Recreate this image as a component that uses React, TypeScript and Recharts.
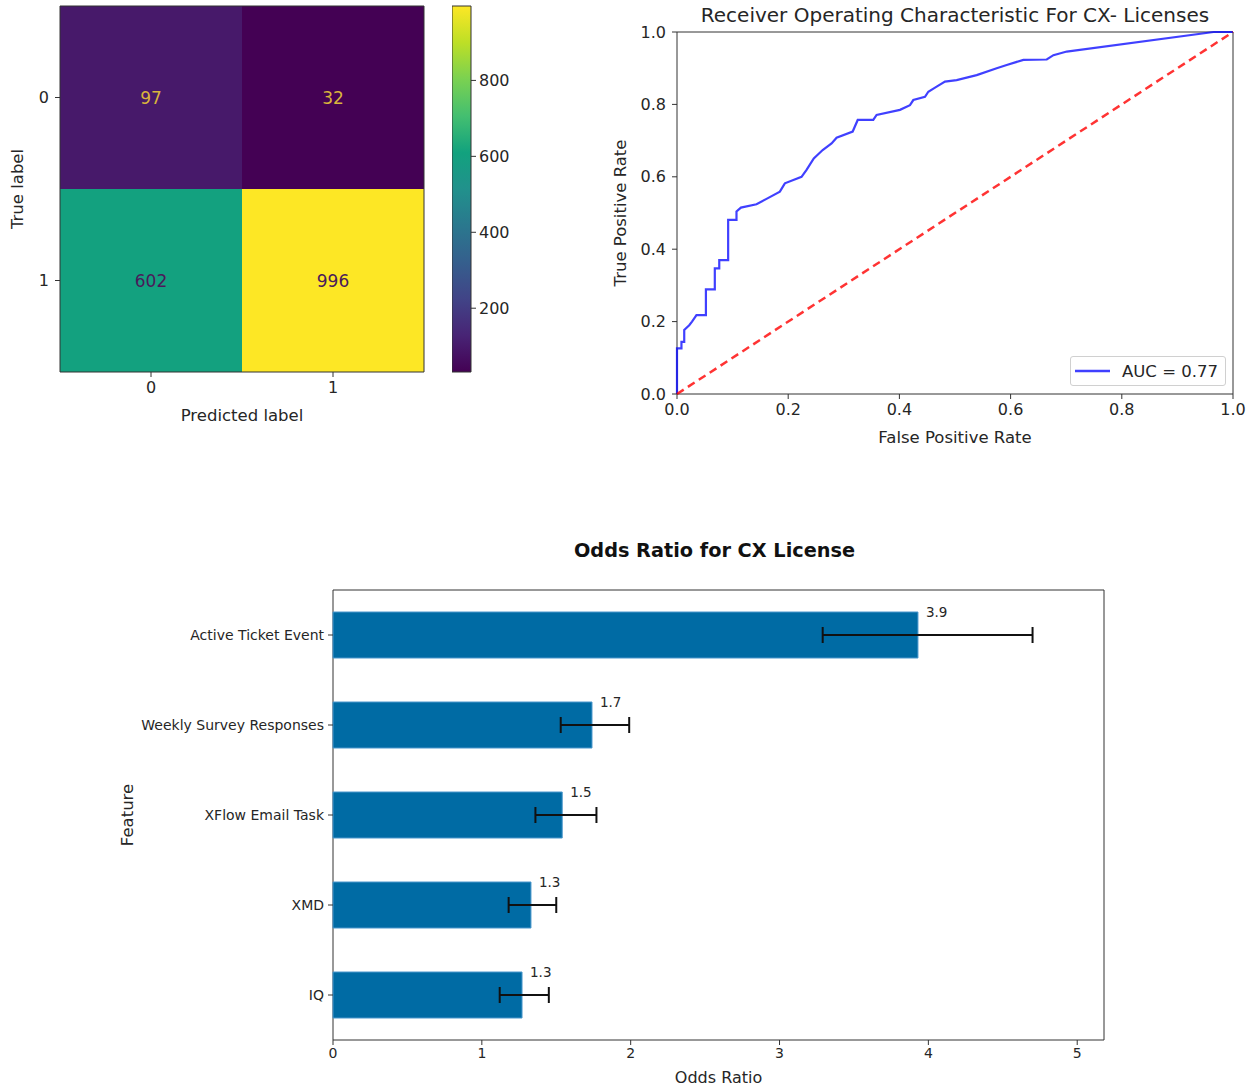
import React from "react";
import {
  ScatterChart,
  Scatter,
  LineChart,
  Line,
  BarChart,
  Bar,
  XAxis,
  YAxis,
  ReferenceArea,
  ReferenceLine,
  ErrorBar,
  LabelList,
  Legend,
  Label,
} from "recharts";

const FONT = '"DejaVu Sans", Verdana, sans-serif';
const INK = "#262626";
const SPINE = "#333";

// --- confusion matrix ---
const classLabels = [0, 1];
const cmCounts = [
  [97, 32],
  [602, 996],
];
const colorbarTicks = [200, 400, 600, 800];

// --- ROC curve ---
const rocFpr = [
  0, 0, 0.008, 0.008, 0.013, 0.013, 0.022, 0.027, 0.035, 0.052, 0.052, 0.068, 0.068, 0.076, 0.076,
  0.092, 0.092, 0.107, 0.107, 0.115, 0.143, 0.161, 0.185, 0.194, 0.224, 0.233, 0.246, 0.262, 0.278,
  0.287, 0.316, 0.325, 0.353, 0.359, 0.401, 0.419, 0.425, 0.446, 0.452, 0.467, 0.482, 0.503, 0.539,
  0.575, 0.593, 0.623, 0.665, 0.677, 0.701, 0.965, 1.0,
];
const rocTpr = [
  0, 0.126, 0.126, 0.144, 0.144, 0.177, 0.19, 0.2, 0.218, 0.218, 0.289, 0.289, 0.347, 0.347, 0.37,
  0.37, 0.481, 0.481, 0.504, 0.515, 0.524, 0.539, 0.559, 0.582, 0.6, 0.619, 0.651, 0.674, 0.692,
  0.708, 0.725, 0.757, 0.757, 0.771, 0.785, 0.798, 0.812, 0.821, 0.835, 0.849, 0.863, 0.867, 0.881,
  0.9, 0.909, 0.923, 0.924, 0.936, 0.946, 1.0, 1.0,
];
const rocTicks = [0, 0.2, 0.4, 0.6, 0.8, 1.0];
const aucValue = 0.77;

// --- odds ratios ---
const features = ["Active Ticket Event", "Weekly Survey Responses", "XFlow Email Task", "XMD", "IQ"];
const oddsRatios = [3.93, 1.74, 1.54, 1.33, 1.27];
const ciLower = [3.29, 1.53, 1.36, 1.18, 1.12];
const ciUpper = [4.7, 1.99, 1.77, 1.5, 1.45];
const oddsTicks = [0, 1, 2, 3, 4, 5];
const oddsMax = 5.18;

const VIRIDIS = [
  "#440154", "#482475", "#414487", "#355f8d", "#2a788e", "#21918c",
  "#12a27e", "#44bf70", "#7ad151", "#bddf26", "#fde725",
];

function viridis(t: number) {
  const p = Math.max(0, Math.min(1, t)) * (VIRIDIS.length - 1);
  const i = Math.min(Math.floor(p), VIRIDIS.length - 2);
  const f = p - i;
  const a = VIRIDIS[i];
  const b = VIRIDIS[i + 1];
  const ch = (h: string, k: number) => parseInt(h.slice(1 + 2 * k, 3 + 2 * k), 16);
  const out = [0, 1, 2].map((k) => Math.round(ch(a, k) + (ch(b, k) - ch(a, k)) * f));
  return `rgb(${out.join(",")})`;
}

const cmMin = Math.min(...cmCounts.flat());
const cmMax = Math.max(...cmCounts.flat());
const cmCells = cmCounts.flatMap((row, r) =>
  row.map((value, c) => ({ row: classLabels[r], col: classLabels[c], value }))
);
const cmMid = (cmMin + cmMax) / 2;

const rocData = rocFpr.map((fpr, i) => ({ fpr, tpr: rocTpr[i] }));

const oddsRows = features.map((feature, i) => ({
  feature,
  or: oddsRatios[i],
  err: [oddsRatios[i] - ciLower[i], ciUpper[i] - oddsRatios[i]],
}));

const tick16 = { fontSize: 16, fill: INK };
const tick14 = { fontSize: 14, fill: INK };

function ConfusionMatrix() {
  return (
    <div style={{ position: "absolute", left: 0, top: 0 }}>
      <ScatterChart width={530} height={430} margin={{ top: 6, right: 106, bottom: 0, left: 0 }}>
        <XAxis
          type="number"
          dataKey="col"
          domain={[-0.5, 1.5]}
          ticks={classLabels}
          height={58}
          tickSize={5}
          tickMargin={5}
          tick={tick16}
          axisLine={false}
          tickLine={{ stroke: SPINE }}
        >
          <Label value="Predicted label" position="insideBottom" offset={9} fontSize={16.5} fill={INK} />
        </XAxis>
        <YAxis
          type="number"
          dataKey="row"
          domain={[-0.5, 1.5]}
          reversed
          ticks={classLabels}
          width={60}
          tickSize={5}
          tickMargin={6}
          tick={tick16}
          axisLine={false}
          tickLine={{ stroke: SPINE }}
        >
          <Label
            value="True label"
            angle={-90}
            position="insideLeft"
            offset={17}
            fontSize={16.5}
            fill={INK}
            style={{ textAnchor: "middle" }}
          />
        </YAxis>
        {cmCells.map((c) => (
          <ReferenceArea
            key={`${c.row}-${c.col}`}
            x1={c.col - 0.5}
            x2={c.col + 0.5}
            y1={c.row - 0.5}
            y2={c.row + 0.5}
            fill={viridis((c.value - cmMin) / (cmMax - cmMin))}
            fillOpacity={1}
            stroke="none"
          />
        ))}
        <ReferenceArea x1={-0.5} x2={1.5} y1={-0.5} y2={1.5} fill="none" stroke={SPINE} strokeOpacity={1} />
        <Scatter
          data={cmCells}
          isAnimationActive={false}
          shape={(p: any) => (
            <text
              x={p.cx}
              y={p.cy}
              textAnchor="middle"
              dominantBaseline="central"
              fontSize={17}
              fill={p.payload.value < cmMid ? "#d9b43c" : "#4a1a5a"}
            >
              {p.payload.value}
            </text>
          )}
        />
      </ScatterChart>
    </div>
  );
}

function Colorbar() {
  return (
    <div style={{ position: "absolute", left: 452, top: 0 }}>
      <BarChart
        width={74}
        height={430}
        data={[{ name: "scale", range: [cmMin, cmMax] }]}
        margin={{ top: 6, right: 0, bottom: 58, left: 0 }}
        barCategoryGap={0}
      >
        <defs>
          <linearGradient id="viridisGrad" x1="0" y1="1" x2="0" y2="0">
            {VIRIDIS.map((c, i) => (
              <stop key={c} offset={i / (VIRIDIS.length - 1)} stopColor={c} />
            ))}
          </linearGradient>
        </defs>
        <XAxis dataKey="name" hide />
        <YAxis
          orientation="right"
          type="number"
          domain={[cmMin, cmMax]}
          ticks={colorbarTicks}
          width={55}
          tickSize={5}
          tickMargin={3}
          tick={tick16}
          axisLine={false}
          tickLine={{ stroke: SPINE }}
        />
        <Bar dataKey="range" fill="url(#viridisGrad)" stroke={SPINE} isAnimationActive={false} />
      </BarChart>
    </div>
  );
}

function RocCurve() {
  return (
    <div style={{ position: "absolute", left: 600, top: 0 }}>
      <div
        style={{
          position: "absolute",
          left: 77,
          width: 556,
          top: 3,
          textAlign: "center",
          fontSize: 20,
          lineHeight: "24px",
          color: INK,
          whiteSpace: "nowrap",
        }}
      >
        Receiver Operating Characteristic For CX- Licenses
      </div>
      <LineChart width={656} height={450} data={rocData} margin={{ top: 32, right: 23, bottom: 0, left: 0 }}>
        <XAxis
          type="number"
          dataKey="fpr"
          domain={[0, 1]}
          ticks={rocTicks}
          tickFormatter={(v: number) => v.toFixed(1)}
          height={56}
          tickSize={5}
          tickMargin={5}
          tick={tick16}
          axisLine={false}
          tickLine={{ stroke: SPINE }}
        >
          <Label value="False Positive Rate" position="insideBottom" offset={7} fontSize={16.5} fill={INK} />
        </XAxis>
        <YAxis
          type="number"
          domain={[0, 1]}
          ticks={rocTicks}
          tickFormatter={(v: number) => v.toFixed(1)}
          width={77}
          tickSize={5}
          tickMargin={6}
          tick={tick16}
          axisLine={false}
          tickLine={{ stroke: SPINE }}
        >
          <Label
            value="True Positive Rate"
            angle={-90}
            position="insideLeft"
            offset={20}
            fontSize={16.5}
            fill={INK}
            style={{ textAnchor: "middle" }}
          />
        </YAxis>
        <ReferenceArea x1={0} x2={1} y1={0} y2={1} fill="none" stroke={SPINE} strokeOpacity={1} />
        <Line
          dataKey="tpr"
          name={`AUC = ${aucValue.toFixed(2)}`}
          type="linear"
          stroke="#0000ff"
          strokeOpacity={0.75}
          strokeWidth={2.2}
          dot={false}
          activeDot={false}
          isAnimationActive={false}
        />
        <ReferenceLine
          segment={[
            { x: 0, y: 0 },
            { x: 1, y: 1 },
          ]}
          stroke="#ff0000"
          strokeOpacity={0.8}
          strokeWidth={2.5}
          strokeDasharray="8 5"
        />
        <Legend
          verticalAlign="middle"
          align="center"
          wrapperStyle={{ left: 470, top: 356, width: 156 }}
          content={() => (
            <div
              style={{
                border: "1px solid #d0d0d0",
                borderRadius: 3,
                height: 28,
                display: "flex",
                alignItems: "center",
                fontSize: 16.5,
                color: INK,
                background: "#fff",
                whiteSpace: "nowrap",
              }}
            >
              <svg width={46} height={10}>
                <line x1={4} y1={5} x2={39} y2={5} stroke="#0000ff" strokeOpacity={0.75} strokeWidth={2.5} />
              </svg>
              <span style={{ marginLeft: 5 }}>{`AUC = ${aucValue.toFixed(2)}`}</span>
            </div>
          )}
        />
      </LineChart>
    </div>
  );
}

function OddsRatioChart() {
  return (
    <div style={{ position: "absolute", left: 0, top: 520 }}>
      <div
        style={{
          position: "absolute",
          left: 329,
          width: 771,
          top: 19,
          textAlign: "center",
          fontSize: 19.3,
          fontWeight: "bold",
          lineHeight: "24px",
          color: "#111",
        }}
      >
        Odds Ratio for CX License
      </div>
      <BarChart
        layout="vertical"
        width={1256}
        height={569}
        data={oddsRows}
        margin={{ top: 70, right: 152, bottom: 0, left: 0 }}
        barSize={46}
      >
        <XAxis
          type="number"
          domain={[0, oddsMax]}
          ticks={oddsTicks}
          height={49}
          tickSize={5}
          tickMargin={3}
          tick={tick14}
          axisLine={false}
          tickLine={{ stroke: SPINE }}
        >
          <Label value="Odds Ratio" position="insideBottom" offset={6} fontSize={16} fill={INK} />
        </XAxis>
        <YAxis
          type="category"
          dataKey="feature"
          width={333}
          tickSize={5}
          tickMargin={4}
          tick={tick14}
          axisLine={false}
          tickLine={{ stroke: SPINE }}
        >
          <Label
            value="Feature"
            angle={-90}
            position="insideLeft"
            offset={127}
            fontSize={16.5}
            fill={INK}
            style={{ textAnchor: "middle" }}
          />
        </YAxis>
        <ReferenceArea x1={0} x2={oddsMax} fill="none" stroke={SPINE} strokeOpacity={1} />
        <Bar dataKey="or" fill="#006ba4" stroke="#4a97cc" strokeWidth={1} isAnimationActive={false}>
          <ErrorBar dataKey="err" direction="x" width={8} stroke="#111" strokeWidth={2} />
          <LabelList
            dataKey="or"
            content={(p: any) => (
              <text
                x={Number(p.x) + Number(p.width) + 8}
                y={Number(p.y)}
                dominantBaseline="central"
                fontSize={13.5}
                fill={INK}
              >
                {Number(p.value).toFixed(1)}
              </text>
            )}
          />
        </Bar>
      </BarChart>
    </div>
  );
}

export default function App() {
  return (
    <div
      style={{
        position: "absolute",
        left: 0,
        top: 0,
        width: 1256,
        height: 1089,
        background: "#fff",
        fontFamily: FONT,
        overflow: "hidden",
      }}
    >
      <ConfusionMatrix />
      <Colorbar />
      <RocCurve />
      <OddsRatioChart />
    </div>
  );
}
